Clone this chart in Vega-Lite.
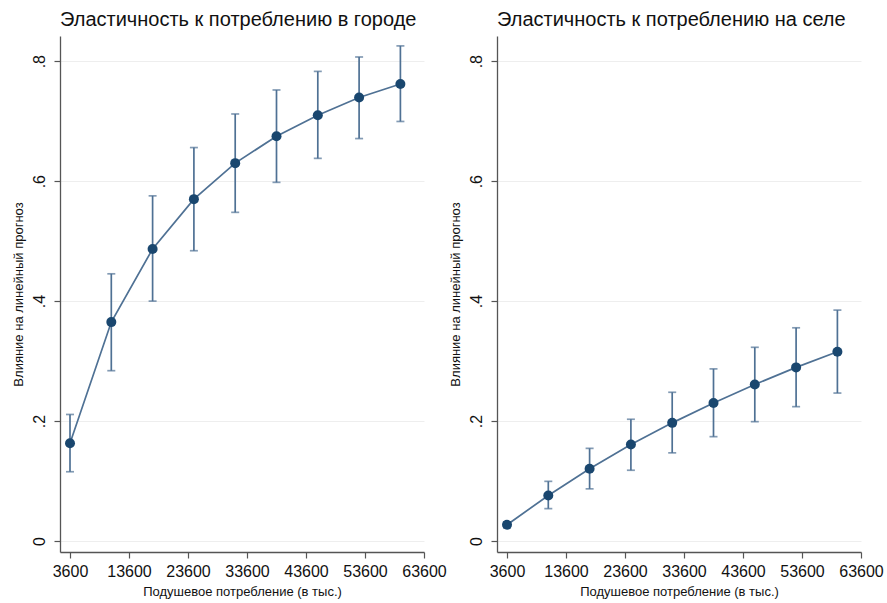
{
  "$schema": "https://vega.github.io/schema/vega-lite/v6.json",
  "background": "white",
  "padding": {"left": 11, "top": 10, "right": 5, "bottom": 5},
  "spacing": 1,
  "datasets": {
    "urban": [
      {"x": 3600, "y": 0.163, "lo": 0.1155, "hi": 0.211},
      {"x": 10600, "y": 0.365, "lo": 0.284, "hi": 0.4455},
      {"x": 17600, "y": 0.487, "lo": 0.400, "hi": 0.5755},
      {"x": 24600, "y": 0.570, "lo": 0.484, "hi": 0.656},
      {"x": 31600, "y": 0.630, "lo": 0.548, "hi": 0.712},
      {"x": 38600, "y": 0.675, "lo": 0.598, "hi": 0.752},
      {"x": 45600, "y": 0.710, "lo": 0.638, "hi": 0.783},
      {"x": 52600, "y": 0.7395, "lo": 0.671, "hi": 0.807},
      {"x": 59600, "y": 0.762, "lo": 0.6995, "hi": 0.8255}
    ],
    "rural": [
      {"x": 3600, "y": 0.027, "lo": 0.022, "hi": 0.032},
      {"x": 10600, "y": 0.076, "lo": 0.054, "hi": 0.0995},
      {"x": 17600, "y": 0.1205, "lo": 0.087, "hi": 0.1545},
      {"x": 24600, "y": 0.161, "lo": 0.118, "hi": 0.203},
      {"x": 31600, "y": 0.197, "lo": 0.147, "hi": 0.248},
      {"x": 38600, "y": 0.230, "lo": 0.174, "hi": 0.287},
      {"x": 45600, "y": 0.261, "lo": 0.199, "hi": 0.323},
      {"x": 52600, "y": 0.2895, "lo": 0.224, "hi": 0.3555},
      {"x": 59600, "y": 0.3155, "lo": 0.2467, "hi": 0.385}
    ]
  },
  "config": {
    "font": "Liberation Sans",
    "view": {"stroke": null},
    "title": {"anchor": "start", "frame": "group", "fontSize": 20, "fontWeight": "normal", "color": "#111111", "offset": 6},
    "axis": {
      "domainColor": "#555555",
      "domainWidth": 1.3,
      "tickColor": "#555555",
      "tickSize": 6,
      "tickWidth": 1.2,
      "labelColor": "#111111",
      "labelFontSize": 16,
      "titleColor": "#111111",
      "titleFontSize": 13,
      "titleFontWeight": "normal",
      "gridColor": "#eeeeee",
      "gridWidth": 1
    }
  },
  "hconcat": [
    {
      "title": "Эластичность к потреблению в городе",
      "width": 364,
      "height": 516,
      "data": {"name": "urban"},
      "encoding": {
        "x": {
          "field": "x",
          "type": "quantitative",
          "scale": {"domain": [1905, 63600], "nice": false, "zero": false},
          "axis": {
            "title": "Подушевое потребление (в тыс.)",
            "values": [3600, 13600, 23600, 33600, 43600, 53600, 63600],
            "format": "d",
            "grid": false,
            "labelPadding": 5,
            "titlePadding": 6,
            "labelFlush": false
          }
        }
      },
      "layer": [
        {
          "mark": {"type": "rule", "color": "#4f7194", "strokeWidth": 1.7},
          "encoding": {
            "y": {
              "field": "lo",
              "type": "quantitative",
              "scale": {"domain": [-0.0183, 0.842], "nice": false, "zero": false},
              "axis": {
                "title": "Влияние на линейный прогноз",
                "values": [0, 0.2, 0.4, 0.6, 0.8],
                "labelExpr": "datum.value == 0 ? '0' : substring(format(datum.value, '.1f'), 1)",
                "labelAngle": -90,
                "labelAlign": "center",
                "labelBaseline": "bottom",
                "labelPadding": 7,
                "titlePadding": 6,
                "grid": true
              }
            },
            "y2": {"field": "hi"}
          }
        },
        {
          "mark": {"type": "tick", "orient": "horizontal", "color": "#4f7194", "thickness": 1.7, "size": 8},
          "encoding": {"y": {"field": "lo", "type": "quantitative"}}
        },
        {
          "mark": {"type": "tick", "orient": "horizontal", "color": "#4f7194", "thickness": 1.7, "size": 8},
          "encoding": {"y": {"field": "hi", "type": "quantitative"}}
        },
        {
          "mark": {"type": "line", "color": "#4f7194", "strokeWidth": 1.7},
          "encoding": {"y": {"field": "y", "type": "quantitative"}}
        },
        {
          "mark": {"type": "point", "filled": true, "opacity": 1, "color": "#1a476f", "size": 100},
          "encoding": {"y": {"field": "y", "type": "quantitative"}}
        }
      ]
    },
    {
      "title": "Эластичность к потреблению на селе",
      "width": 364,
      "height": 516,
      "data": {"name": "rural"},
      "encoding": {
        "x": {
          "field": "x",
          "type": "quantitative",
          "scale": {"domain": [1905, 63600], "nice": false, "zero": false},
          "axis": {
            "title": "Подушевое потребление (в тыс.)",
            "values": [3600, 13600, 23600, 33600, 43600, 53600, 63600],
            "format": "d",
            "grid": false,
            "labelPadding": 5,
            "titlePadding": 6,
            "labelFlush": false
          }
        }
      },
      "layer": [
        {
          "mark": {"type": "rule", "color": "#4f7194", "strokeWidth": 1.7},
          "encoding": {
            "y": {
              "field": "lo",
              "type": "quantitative",
              "scale": {"domain": [-0.0183, 0.842], "nice": false, "zero": false},
              "axis": {
                "title": "Влияние на линейный прогноз",
                "values": [0, 0.2, 0.4, 0.6, 0.8],
                "labelExpr": "datum.value == 0 ? '0' : substring(format(datum.value, '.1f'), 1)",
                "labelAngle": -90,
                "labelAlign": "center",
                "labelBaseline": "bottom",
                "labelPadding": 7,
                "titlePadding": 6,
                "grid": true
              }
            },
            "y2": {"field": "hi"}
          }
        },
        {
          "mark": {"type": "tick", "orient": "horizontal", "color": "#4f7194", "thickness": 1.7, "size": 8},
          "encoding": {"y": {"field": "lo", "type": "quantitative"}}
        },
        {
          "mark": {"type": "tick", "orient": "horizontal", "color": "#4f7194", "thickness": 1.7, "size": 8},
          "encoding": {"y": {"field": "hi", "type": "quantitative"}}
        },
        {
          "mark": {"type": "line", "color": "#4f7194", "strokeWidth": 1.7},
          "encoding": {"y": {"field": "y", "type": "quantitative"}}
        },
        {
          "mark": {"type": "point", "filled": true, "opacity": 1, "color": "#1a476f", "size": 100},
          "encoding": {"y": {"field": "y", "type": "quantitative"}}
        }
      ]
    }
  ]
}
